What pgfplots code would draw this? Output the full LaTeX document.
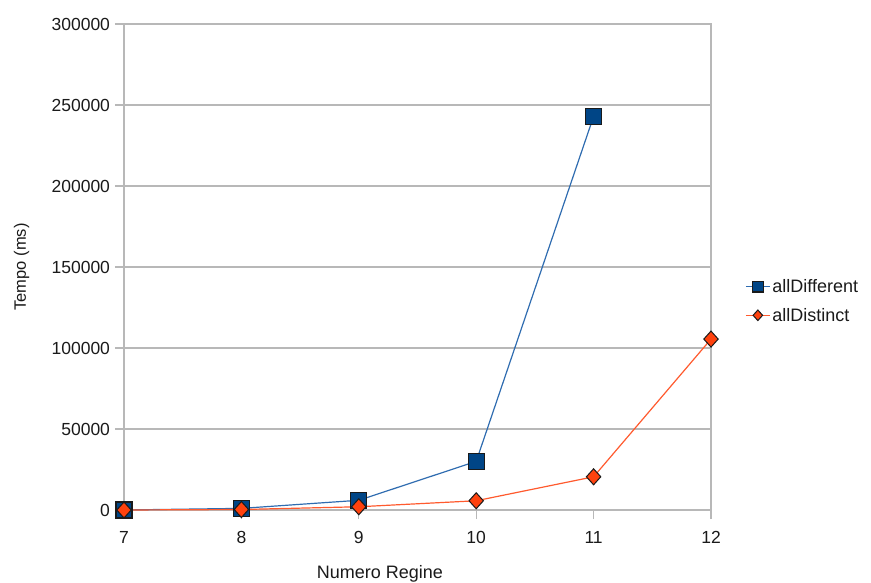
\documentclass[border=0pt]{standalone}
\usepackage{fontspec}
\setmainfont{Liberation Sans}
\usepackage{pgfplots}
\pgfplotsset{compat=1.18}

\definecolor{serblue}{HTML}{004586}
\definecolor{serbluel}{HTML}{2F6CB0}
\definecolor{serorange}{HTML}{FF420E}
\definecolor{serorangel}{HTML}{FF5A2E}
\definecolor{gridgray}{HTML}{B8B8B8}
\definecolor{labelgray}{HTML}{1A1A1A}

\begin{document}
\begin{tikzpicture}
\useasboundingbox (0bp,0bp) rectangle (871bp,583bp);
\begin{axis}[
  at={(124bp,73bp)}, anchor=south west,
  scale only axis, width=587bp, height=486bp,
  xmin=7, xmax=12, ymin=0, ymax=300000,
  xtick={7,8,9,10,11,12},
  ytick={0,50000,100000,150000,200000,250000,300000},
  scaled y ticks=false,
  /pgf/number format/assume math mode=true,
  yticklabel style={/pgf/number format/fixed, /pgf/number format/1000 sep={}, xshift=-1.5bp},
  xticklabel style={/pgf/number format/fixed, yshift=-9bp},
  tick label style={font=\fontsize{17.5bp}{20bp}\selectfont, text=labelgray},
  tick align=outside, tick pos=left,
  major tick length=9bp,
  axis line style={gridgray, line width=1.3bp},
  tick style={gridgray, line width=1.3bp},
  ymajorgrids, grid style={gridgray, line width=1.3bp},
  clip=false,
  xlabel={Numero Regine},
  xlabel style={at={(axis description cs:0.436,0)}, anchor=base, yshift=-68bp,
    font=\fontsize{18bp}{21bp}\selectfont, text=labelgray},
  ylabel={Tempo (ms)},
  ylabel style={at={(axis description cs:0,0.5)}, anchor=base, yshift=98bp,
    font=\fontsize{16.5bp}{20bp}\selectfont, text=labelgray},
  legend style={at={(axis description cs:1.058,0.43)}, anchor=west, draw=none,
    fill=none, font=\fontsize{18bp}{21bp}\selectfont, text=labelgray,
    row sep=10bp, inner sep=0pt,
    nodes={inner sep=2bp}},
  legend cell align=left,
  legend image code/.code={%
    \draw[mark repeat=2, mark phase=2, #1, every mark/.append style={scale=0.66}]
      plot coordinates {(0bp,0bp) (12bp,0bp) (24bp,0bp)};},
]
% allDifferent: no run for 12 regine
\addplot[serbluel, line width=1.2bp, mark=square*,
  mark size=8bp, mark options={solid, fill=serblue, draw=labelgray, line width=1.2bp}]
  coordinates {(7,0) (8,1000) (9,6000) (10,30000) (11,243000)};
\addlegendentry{allDifferent}
\addplot[serorangel, line width=1.2bp, mark=diamond*,
  mark size=8bp, mark options={solid, fill=serorange, draw=labelgray, line width=1.0bp, xscale=1.2}]
  coordinates {(7,0) (8,300) (9,2000) (10,5700) (11,20500) (12,105500)};
\addlegendentry{allDistinct}
\end{axis}
\end{tikzpicture}
\end{document}
